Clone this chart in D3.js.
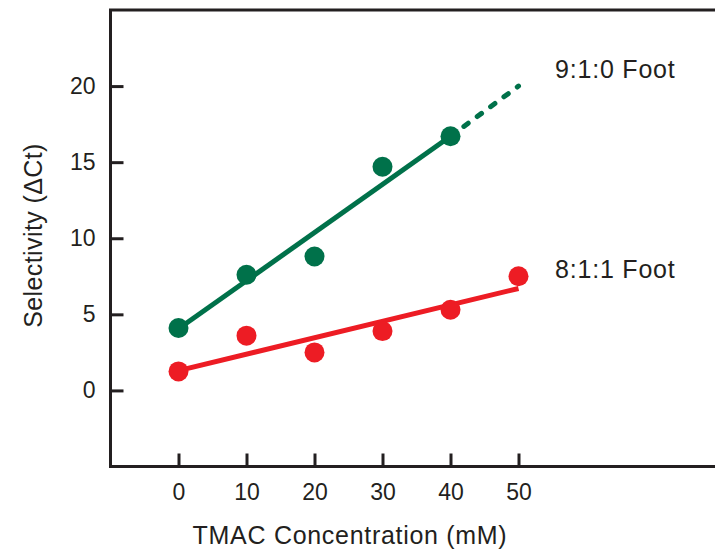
<!DOCTYPE html>
<html>
<head>
<meta charset="utf-8">
<script src="https://cdn.jsdelivr.net/npm/d3@7"></script>
<style>
  html, body { margin: 0; padding: 0; background: #fff; }
  svg { display: block; font-family: "Liberation Sans", Arial, Helvetica, sans-serif; }
</style>
</head>
<body>
<svg id="chart" width="715" height="550"></svg>
<script>
// TMAC concentration (mM) and measured selectivity (ΔCt)
const concentrations = [0, 10, 20, 30, 40, 50];
const foot910 = [4.1, 7.6, 8.8, 14.7, 16.7];          // 9:1:0 Foot, 0–40 mM
const foot811 = [1.25, 3.6, 2.5, 3.9, 5.3, 7.5];      // 8:1:1 Foot, 0–50 mM

// Linear trend lines: [concentration, selectivity] end points
const trend910 = [[0, 4.05], [40, 16.7]];
const trend910Extrapolated = [[40, 16.7], [50, 20.0]];
const trend811 = [[0, 1.3], [50, 6.7]];

const xTicks = [0, 10, 20, 30, 40, 50];
const yTicks = [0, 5, 10, 15, 20];

const seriesLabels = ["9:1:0 Foot", "8:1:1 Foot"];
const xTitle = "TMAC Concentration (mM)";
const yTitle = "Selectivity (\u0394Ct)";

const GREEN = "#00714a";
const RED = "#ed1c24";
const INK = "#231f20";

const svg = d3.select("#chart");

const x = d3.scaleLinear().domain([-10, 80]).range([110.5, 722.5]);
const y = d3.scaleLinear().domain([-5, 25]).range([466.5, 10]);

// Frame: left axis, bottom axis and top border (open to the right)
svg.append("path")
  .attr("d", `M${x(80)},${y(25)}H${x(-10)}V${y(-5)}H${x(80)}`)
  .attr("fill", "none")
  .attr("stroke", INK)
  .attr("stroke-width", 3);

const yAxis = svg.append("g")
  .attr("transform", `translate(${x(-10)},0)`)
  .call(d3.axisLeft(y).tickValues(yTicks).tickSizeInner(-13).tickSizeOuter(0).tickPadding(15));

const xAxis = svg.append("g")
  .attr("transform", `translate(0,${y(-5)})`)
  .call(d3.axisBottom(x).tickValues(xTicks).tickSizeInner(-13).tickSizeOuter(0).tickPadding(17));

[yAxis, xAxis].forEach(g => {
  g.select(".domain").remove();
  g.selectAll(".tick line").attr("stroke", INK).attr("stroke-width", 3);
  g.selectAll(".tick text")
    .attr("fill", INK)
    .style("font-size", "23px")
    .style("font-family", "'Liberation Sans', Arial, sans-serif");
});

// Axis titles
svg.append("text")
  .attr("x", 350)
  .attr("y", 544)
  .attr("text-anchor", "middle")
  .attr("fill", INK)
  .style("font-size", "25px")
  .style("letter-spacing", "0.7px")
  .text(xTitle);

svg.append("text")
  .attr("transform", "translate(41.5,235.5) rotate(-90)")
  .attr("text-anchor", "middle")
  .attr("fill", INK)
  .style("font-size", "25px")
  .style("letter-spacing", "0.4px")
  .text(yTitle);

// Trend lines
const line = d3.line().x(d => x(d[0])).y(d => y(d[1]));

svg.append("path")
  .datum(trend910)
  .attr("d", line)
  .attr("fill", "none")
  .attr("stroke", GREEN)
  .attr("stroke-width", 5);

svg.append("path")
  .datum(trend910Extrapolated)
  .attr("d", line)
  .attr("fill", "none")
  .attr("stroke", GREEN)
  .attr("stroke-width", 5)
  .attr("stroke-linecap", "round")
  .attr("stroke-dasharray", "5.4,11.2");

svg.append("path")
  .datum(trend811)
  .attr("d", line)
  .attr("fill", "none")
  .attr("stroke", RED)
  .attr("stroke-width", 5);

// Data points
svg.append("g")
  .selectAll("circle")
  .data(foot910)
  .join("circle")
  .attr("cx", (d, i) => x(concentrations[i]))
  .attr("cy", d => y(d))
  .attr("r", 10)
  .attr("fill", GREEN);

svg.append("g")
  .selectAll("circle")
  .data(foot811)
  .join("circle")
  .attr("cx", (d, i) => x(concentrations[i]))
  .attr("cy", d => y(d))
  .attr("r", 10)
  .attr("fill", RED);

// Series labels
svg.append("text")
  .attr("x", 555)
  .attr("y", 78)
  .attr("fill", INK)
  .style("font-size", "25px")
  .style("letter-spacing", "0.8px")
  .text(seriesLabels[0]);

svg.append("text")
  .attr("x", 555)
  .attr("y", 278)
  .attr("fill", INK)
  .style("font-size", "25px")
  .style("letter-spacing", "0.8px")
  .text(seriesLabels[1]);
</script>
</body>
</html>
